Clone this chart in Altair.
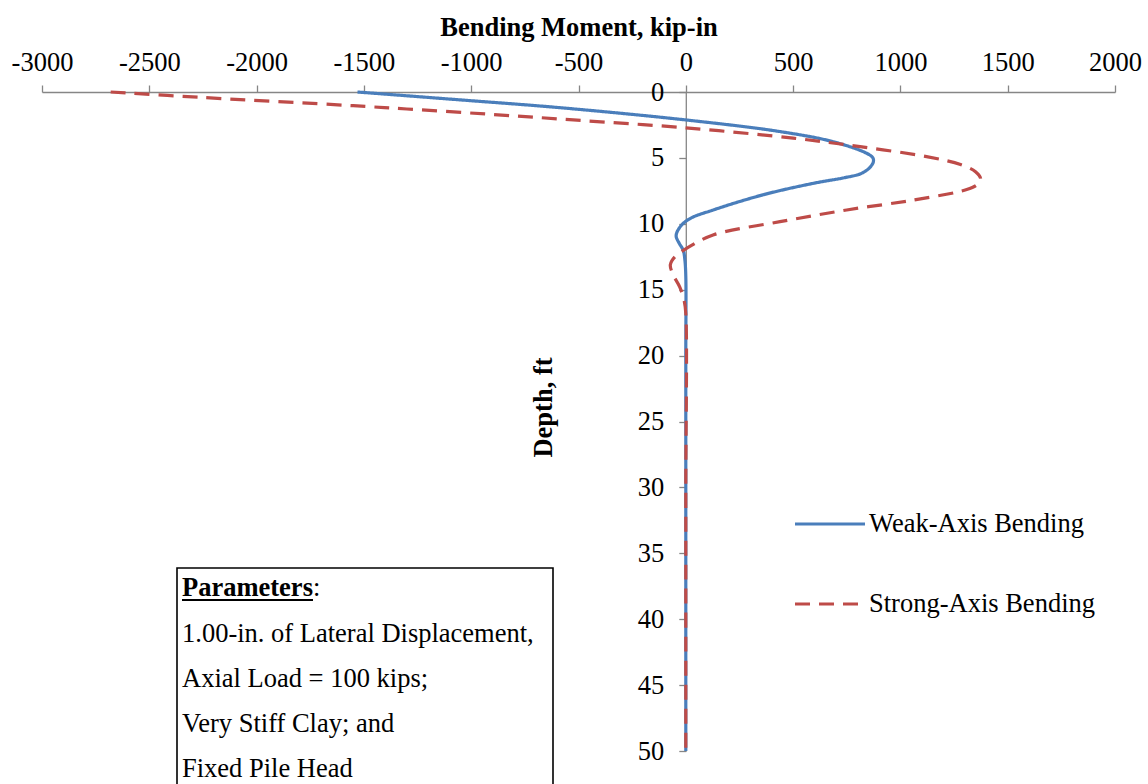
import altair as alt
import pandas as pd

# ---- data ----
series_names = ["Weak-Axis Bending", "Strong-Axis Bending"]
series_colors = ["#4A7EBB", "#BE4B48"]

weak_moment = [-1530, -1050, -586, 0, 438, 686, 843, 872, 874, 864, 850, 815, 740, 594, 360, 128, 20, -25, -45, -30, -12, -4, 0, 0, 0, 0, 0]
weak_depth = [0, 0.6, 1.19, 2.12, 3.0, 3.77, 4.65, 5.0, 5.3, 5.6, 5.85, 6.2, 6.5, 6.93, 7.8, 8.95, 9.6, 10.2, 10.9, 11.5, 12.0, 12.8, 14.0, 20, 30, 40, 50]

strong_moment = [-2680, -2270, -1550, -1300, -912, -524, 0, 500, 812, 1122, 1280, 1350, 1374, 1360, 1309, 1060, 750, 439, 127, 0, -45, -72, -58, -28, -8, 0, 0, 0, 0]
strong_depth = [0, 0.4, 1.04, 1.29, 1.69, 2.12, 2.72, 3.5, 4.15, 4.9, 5.5, 6.05, 6.6, 7.0, 7.4, 8.2, 8.95, 9.84, 10.85, 11.9, 12.4, 13.1, 13.9, 14.8, 15.8, 16.8, 30, 40, 50]

x_ticks = [-3000, -2500, -2000, -1500, -1000, -500, 0, 500, 1000, 1500, 2000]
y_ticks = [0, 5, 10, 15, 20, 25, 30, 35, 40, 45, 50]

param_title = "Parameters"
param_lines = [
    "1.00-in. of Lateral Displacement,",
    "Axial Load = 100 kips;",
    "Very Stiff Clay; and",
    "Fixed Pile Head",
]

rows = []
for i, (m, d) in enumerate(zip(weak_moment, weak_depth)):
    rows.append({"series": series_names[0], "moment": m, "depth": d, "order": i})
for i, (m, d) in enumerate(zip(strong_moment, strong_depth)):
    rows.append({"series": series_names[1], "moment": m, "depth": d, "order": i})
df = pd.DataFrame(rows)

FONT = "Liberation Serif"
FS = 26.5
W, H = 1073, 659
AXC = "#868686"

x_enc = alt.X(
    "moment:Q",
    scale=alt.Scale(domain=[-3000, 2000], nice=False, zero=False),
    axis=alt.Axis(
        orient="top", values=x_ticks, title="Bending Moment, kip-in",
        labelExpr="'' + datum.value", grid=False,
        domainColor=AXC, domainWidth=1.3, tickColor=AXC, tickWidth=1.3, tickSize=7,
        labelFont=FONT, labelFontSize=FS, labelColor="black", labelPadding=9,
        titleFont=FONT, titleFontSize=FS, titleFontWeight="bold", titleColor="black",
        titlePadding=8, labelFlush=False, labelOverlap=False,
    ),
)
y_enc = alt.Y(
    "depth:Q",
    scale=alt.Scale(domain=[0, 50], reverse=True, nice=False, zero=False),
    axis=alt.Axis(
        orient="left", offset=-643.8, values=y_ticks, title="Depth, ft", grid=False,
        domainColor=AXC, domainWidth=1.3, tickColor=AXC, tickWidth=1.3, tickSize=7,
        labelFont=FONT, labelFontSize=FS, labelColor="black", labelPadding=15,
        titleFont=FONT, titleFontSize=FS, titleFontWeight="bold", titleColor="black",
        titleX=-128, titleY=315, labelFlush=False, labelOverlap=False,
    ),
)
legend_cfg = dict(
    title=None, orient="none", legendX=751, legendY=395,
    symbolType="stroke", symbolSize=4900, symbolStrokeWidth=3.2,
    labelFont=FONT, labelFontSize=FS, labelColor="black", labelOffset=2,
    rowPadding=29, labelLimit=500,
)
color_enc = alt.Color(
    "series:N",
    scale=alt.Scale(domain=series_names, range=series_colors),
    legend=alt.Legend(**legend_cfg),
)
dash_enc = alt.StrokeDash(
    "series:N",
    scale=alt.Scale(domain=series_names, range=[[1, 0], [15, 9]]),
    legend=alt.Legend(**legend_cfg),
)

base = alt.Chart(df)
weak = base.transform_filter(alt.datum.series == series_names[0]).mark_line(
    strokeWidth=3.2, interpolate="catmull-rom"
).encode(x=x_enc, y=y_enc, color=color_enc, strokeDash=dash_enc, order="order:Q")
strong = base.transform_filter(alt.datum.series == series_names[1]).mark_line(
    strokeWidth=3.2, interpolate="catmull-rom"
).encode(x=x_enc, y=y_enc, color=color_enc, strokeDash=dash_enc, order="order:Q")

one = alt.Chart(pd.DataFrame({"k": [0]}))
box = one.mark_rect(fill="white", stroke="black", strokeWidth=1.6).encode(
    x=alt.value(135), x2=alt.value(511), y=alt.value(476), y2=alt.value(720)
)
ptitle = one.mark_text(font=FONT, fontSize=FS, fontWeight="bold", align="left", baseline="alphabetic", color="black").encode(
    x=alt.value(140), y=alt.value(504), text=alt.value(param_title)
)
pcolon = one.mark_text(font=FONT, fontSize=FS, align="left", baseline="alphabetic", color="black").encode(
    x=alt.value(271), y=alt.value(504), text=alt.value(":")
)
punder = one.mark_rule(color="black", strokeWidth=2).encode(
    x=alt.value(140), x2=alt.value(271), y=alt.value(508)
)
pbody = one.mark_text(font=FONT, fontSize=FS, align="left", baseline="alphabetic", color="black", lineHeight=45.3).encode(
    x=alt.value(140), y=alt.value(549.5), text=alt.value(param_lines)
)

chart = alt.layer(weak, strong, box, ptitle, pcolon, punder, pbody).properties(
    width=W, height=H,
    autosize=alt.AutoSizeParams(type="none"),
    padding={"left": 42, "top": 92, "right": 33, "bottom": 33},
    background="white",
).configure_view(stroke=None)

chart.save("out.html", embed_options={"renderer": "svg", "actions": False})
